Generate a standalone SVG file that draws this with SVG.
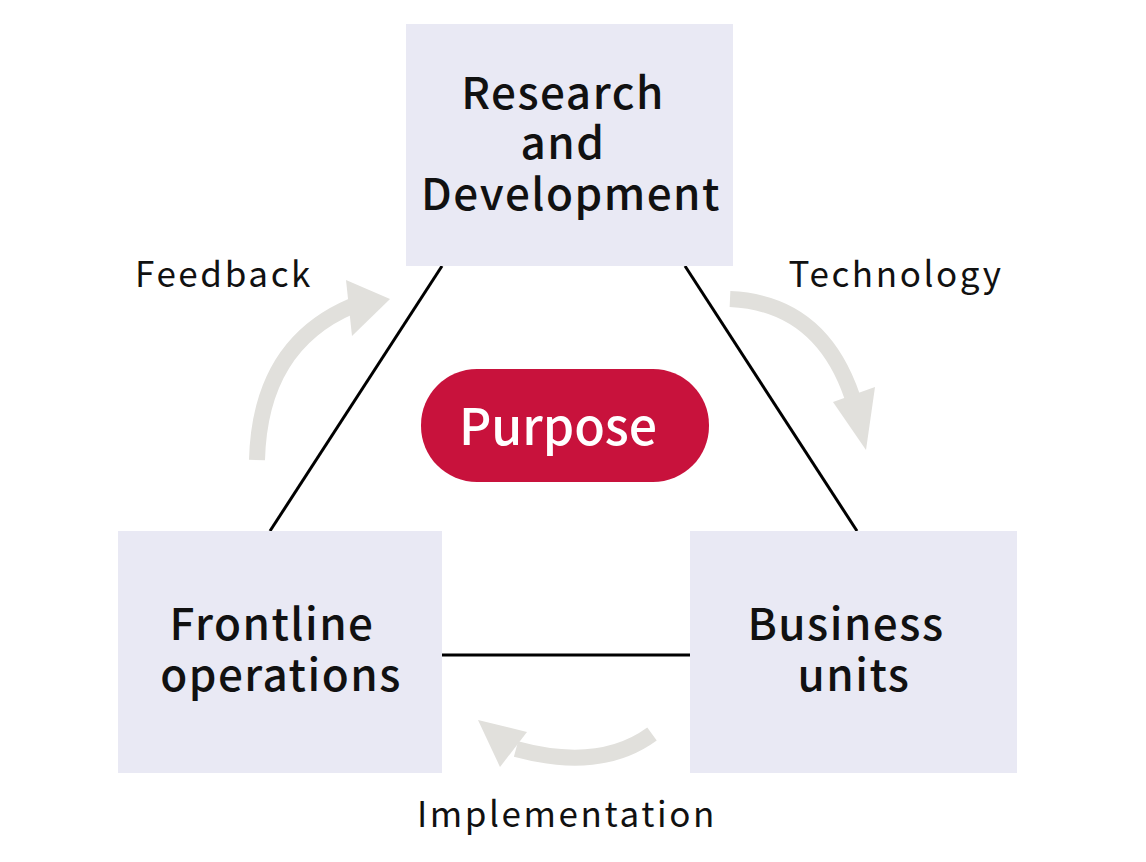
<svg xmlns="http://www.w3.org/2000/svg" width="1146" height="862" viewBox="0 0 1146 862">
<style>
.box{fill:#e9e9f4}
.lbl{font-family:"Noto Sans CJK JP","Noto Sans",sans-serif;font-weight:500;font-size:44px;fill:#111;text-anchor:middle;letter-spacing:1.5px}
.cap{font-family:"Noto Sans CJK JP","Noto Sans",sans-serif;font-weight:400;font-size:35px;fill:#111;text-anchor:middle;letter-spacing:2.6px}
.band{fill:none;stroke:#e1e0dc;stroke-width:16}
.head{fill:#e1e0dc}
.conn{stroke:#000;stroke-width:3;fill:none}
</style>
<rect width="1146" height="862" fill="#fff"/>
<g id="connectors">
<line class="conn" x1="442" y1="266" x2="270" y2="531"/>
<line class="conn" x1="685" y1="266" x2="857" y2="531"/>
<line class="conn" x1="442" y1="655" x2="690" y2="655"/>
</g>
<g id="arrow-feedback">
<path class="band" d="M257,460 Q260,345 352,306"/>
<polygon class="head" points="346,280 390,299 352,336"/>
<text class="cap" x="224" y="287">Feedback</text>
</g>
<g id="arrow-technology">
<path class="band" d="M730,299 Q820,303 852,396"/>
<polygon class="head" points="833,402 875,387 866,450"/>
<text class="cap" x="896" y="287">Technology</text>
</g>
<g id="arrow-implementation">
<path class="band" d="M652,734 Q600,772 516,749"/>
<polygon class="head" points="478,720 527,732 500,767"/>
<text class="cap" x="567" y="827">Implementation</text>
</g>
<g id="node-rd">
<rect class="box" x="406" y="24" width="327" height="242"/>
<text class="lbl" x="563" y="109">Research</text>
<text class="lbl" x="563" y="159">and</text>
<text class="lbl" x="571" y="210">Development</text>
</g>
<g id="node-frontline">
<rect class="box" x="118" y="531" width="324" height="242"/>
<text class="lbl" x="272" y="640">Frontline</text>
<text class="lbl" x="281" y="691">operations</text>
</g>
<g id="node-business">
<rect class="box" x="690" y="531" width="327" height="242"/>
<text class="lbl" x="846" y="640">Business</text>
<text class="lbl" x="854" y="691">units</text>
</g>
<g id="node-purpose">
<rect x="421" y="369" width="288" height="113" rx="56" fill="#c8123c"/>
<text class="lbl" x="558" y="445" style="fill:#fff;font-size:50px;letter-spacing:0">Purpose</text>
</g>
</svg>
